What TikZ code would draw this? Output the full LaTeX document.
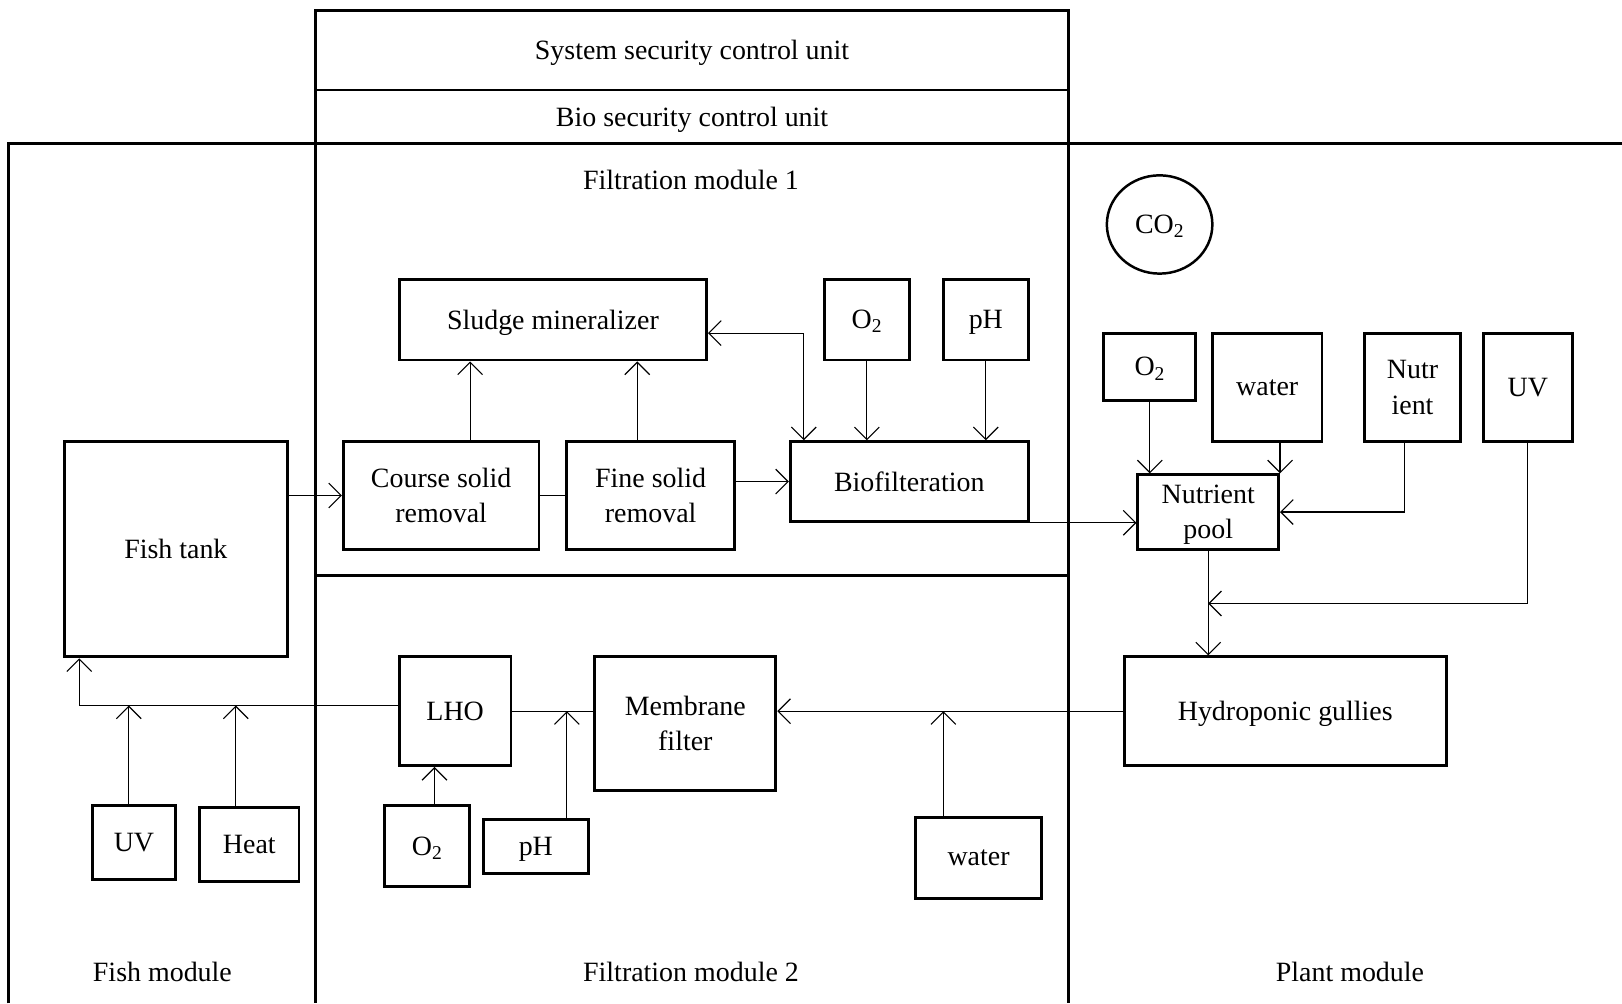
\documentclass[tikz,border=0pt]{standalone}
\usepackage{fontspec}
\setmainfont{Liberation Serif}
\usetikzlibrary{arrows.meta,shapes.geometric}

\begin{document}
\begin{tikzpicture}[x=1pt,y=-1pt,
		font=\fontsize{27}{34}\selectfont,
		>={Straight Barb[length=12pt,width=24pt]},
		unit/.style={draw,line width=2.8pt,inner sep=0pt,align=center,text depth=0pt},
		frame/.style={line width=2.8pt},
		flow/.style={line width=1.1pt,->},
		link/.style={line width=1.1pt}]
		
		\useasboundingbox (0,0) rectangle (1568,970);
		
		\node[unit,minimum width=728pt,minimum height=77pt] (system) at (669,48.5) {System security control unit};
		\node[unit,minimum width=728pt,minimum height=52pt] (biosec) at (669,113) {Bio security control unit};
		
		\draw[frame] (8,970) -- (8,139) -- (1568,139);
		\draw[frame] (305,139) -- (305,970);
		\draw[frame] (1033,139) -- (1033,970);
		\draw[frame] (305,556) -- (1033,556);
		
		\node (filtone) at (668,174) {Filtration module 1};
		\node (fishmod) at (157,940) {Fish module};
		\node (filttwo) at (668,940) {Filtration module 2};
		\node (plantmod) at (1305,940) {Plant module};
		
		\node[unit,minimum width=297pt,minimum height=78pt] (sludge) at (534.5,309) {Sludge mineralizer};
		\node[unit,minimum width=82pt,minimum height=78pt] (o2bio) at (838,309) {O\textsubscript{2}};
		\node[unit,minimum width=82pt,minimum height=78pt] (phbio) at (953,309) {pH};
		\node[unit,minimum width=189pt,minimum height=104pt] (course) at (426.5,479) {Course solid\\removal};
		\node[unit,minimum width=162pt,minimum height=104pt] (fine) at (629,479) {Fine solid\\removal};
		\node[unit,minimum width=230pt,minimum height=77pt] (biofilt) at (879,465.5) {Biofilteration};
		
		\node[unit,minimum width=216pt,minimum height=208pt] (fishtank) at (170,531) {Fish tank};
		\node[unit,minimum width=81pt,minimum height=71pt] (uvfish) at (129.5,814.5) {UV};
		\node[unit,minimum width=96pt,minimum height=71pt] (heat) at (241,816.5) {Heat};
		
		\node[unit,minimum width=108pt,minimum height=105pt] (lho) at (440,687.5) {LHO};
		\node[unit,minimum width=175pt,minimum height=129pt] (membrane) at (662.5,699.5) {Membrane\\filter};
		\node[unit,minimum width=82pt,minimum height=78pt] (o2lho) at (413,818) {O\textsubscript{2}};
		\node[unit,minimum width=102pt,minimum height=52pt] (phlho) at (518,818) {pH};
		\node[unit,minimum width=122pt,minimum height=79pt] (watermem) at (946,829.5) {water};
		
		\node[unit,ellipse,line width=2.4pt,minimum width=102pt,minimum height=95pt] (co2) at (1121,217) {CO\textsubscript{2}};
		\node[unit,minimum width=89pt,minimum height=65pt] (o2pool) at (1111.5,354.5) {O\textsubscript{2}};
		\node[unit,minimum width=106pt,minimum height=105pt] (waterpool) at (1225,374.5) {water};
		\node[unit,minimum width=93pt,minimum height=105pt] (nutr) at (1365.5,374.5) {Nutr\\ient};
		\node[unit,minimum width=86pt,minimum height=105pt] (uvpool) at (1477,374.5) {UV};
		\node[unit,minimum width=136pt,minimum height=72pt] (pool) at (1168,495) {Nutrient\\pool};
		\node[unit,minimum width=311pt,minimum height=105pt] (hydro) at (1242.5,687.5) {Hydroponic gullies};
		
		\coordinate (courseup) at ([xshift=28pt]course.north);
		\coordinate (fineup) at ([xshift=-13pt]fine.north);
		\coordinate (sludgeout) at ([yshift=-13pt]sludge.east);
		\coordinate (biofiltin) at ([xshift=-102pt]biofilt.north);
		\coordinate (nutrdown) at ([xshift=-8pt]nutr.south);
		\coordinate (uvjoin) at ([yshift=-51pt]pool.south);
		\coordinate (waterup) at ([xshift=-34pt]watermem.north);
		\coordinate (phup) at ([xshift=30pt]phlho.north);
		\coordinate (o2up) at ([xshift=7pt]o2lho.north);
		\coordinate (tankback) at ([yshift=5.5pt]lho.west);
		\coordinate (tankin) at ([xshift=16pt]fishtank.south west);
		\coordinate (uvup) at ([xshift=-5pt]uvfish.north);
		\coordinate (heatup) at ([xshift=-13pt]heat.north);
		
		\draw[flow] (fishtank.east |- course.west) -- (course.west);
		\draw[link] (course.east) -- (fine.west);
		\draw[flow] (fine.east |- biofilt.west) -- (biofilt.west);
		\draw[flow] (courseup) -- (courseup |- sludge.south);
		\draw[flow] (fineup) -- (fineup |- sludge.south);
		\draw[link,<->] (sludgeout) -| (biofiltin);
		\draw[flow] (o2bio.south) -- (o2bio.south |- biofilt.north);
		\draw[flow] (phbio.south) -- (phbio.south |- biofilt.north);
		
		\draw[flow] (biofilt.south east) -- (biofilt.south east -| pool.west);
		\draw[flow] (o2pool.south) -- (o2pool.south |- pool.north);
		\draw[flow] (pool.north east |- waterpool.south) -- (pool.north east);
		\draw[flow] (nutrdown) |- (pool.east);
		\draw[flow] (uvpool.south) |- (uvjoin);
		\draw[flow] (pool.south) -- (pool.south |- hydro.north);
		
		\draw[flow] (hydro.west) -- (hydro.west -| membrane.east);
		\draw[flow] (waterup) -- (waterup |- hydro.west);
		\draw[link] (lho.east) -- (lho.east -| membrane.west);
		\draw[flow] (phup) -- (phup |- lho.east);
		\draw[flow] (o2up) -- (o2up |- lho.south);
		
		\draw[flow] (tankback) -| (tankin);
		\draw[flow] (uvup) -- (uvup |- tankback);
		\draw[flow] (heatup) -- (heatup |- tankback);
		
	\end{tikzpicture}
\end{document}
